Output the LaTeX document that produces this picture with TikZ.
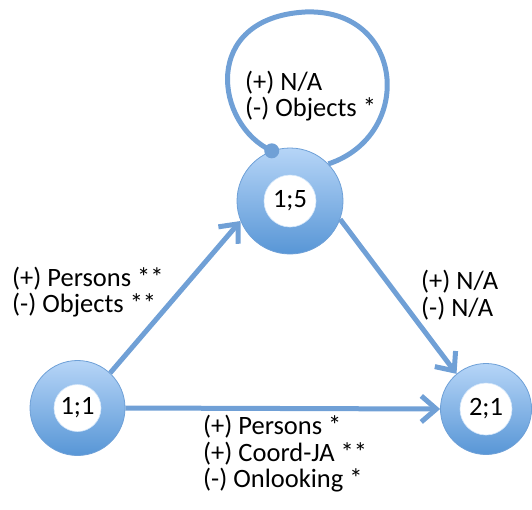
\documentclass[tikz,border=0pt]{standalone}
\usepackage{fontspec}
\setmainfont{Carlito}
\usetikzlibrary{arrows.meta}
\definecolor{ringtop}{RGB}{182,213,247}
\definecolor{ringbot}{RGB}{88,150,214}
\definecolor{ringedge}{RGB}{110,160,215}
\definecolor{linkc}{RGB}{112,160,214}
\tikzset{
  ring/.style={circle, draw=ringedge, line width=0.8pt, top color=ringtop, bottom color=ringbot, inner sep=0pt},
  hole/.style={circle, fill=white, draw=ringtop!60!white, line width=0.6pt, inner sep=0pt, minimum size=50pt, font=\fontsize{26.5}{26.5}\selectfont},
  lbl/.style={anchor=west, align=left, inner sep=0pt, font=\fontsize{26.5}{26.5}\selectfont},
  link/.style={draw=linkc, line width=5pt, -{Straight Barb[length=15pt,width=26pt]}},
  loopline/.style={draw=linkc, line width=5pt}
}
\begin{document}
\begin{tikzpicture}[x=1pt,y=-1pt]
\useasboundingbox (0,0) rectangle (532,509);
% states
\node[ring, minimum size=95pt] (n11) at (77.5,408) {};
\node[hole, minimum size=47pt] (h11) at (n11) {1;1};
\node[ring, minimum size=106pt] (n15) at (290,201) {};
\node[hole, minimum size=52pt] (h15) at (n15) {1;5};
\node[ring, minimum size=91pt] (n21) at (486,409) {};
\node[hole, minimum size=52pt] (h21) at (n21) {2;1};
% self loop
\draw[loopline] (n15.110) .. controls (215,125) and (200,18) .. (305,12)
  .. controls (405,8) and (415,135) .. (n15.44);
\fill[linkc] (n15.110) circle (7.5pt);
% transitions
\draw[link] (n11.47) -- (n15.202);
\draw[link] (n15.-20) -- (n21.130);
\draw[link] (n11.east) -- (n21.west);
% labels
\node[lbl] (l15) at (245,96) {(+) N/A\\(-) Objects *};
\node[lbl] (l1115) at (12,292) {(+) Persons **\\(-) Objects **};
\node[lbl] (l1521) at (421,295) {(+) N/A\\(-) N/A};
\node[lbl] (l1121) at (203,454) {(+) Persons *\\(+) Coord-JA **\\(-) Onlooking *};
\end{tikzpicture}
\end{document}
